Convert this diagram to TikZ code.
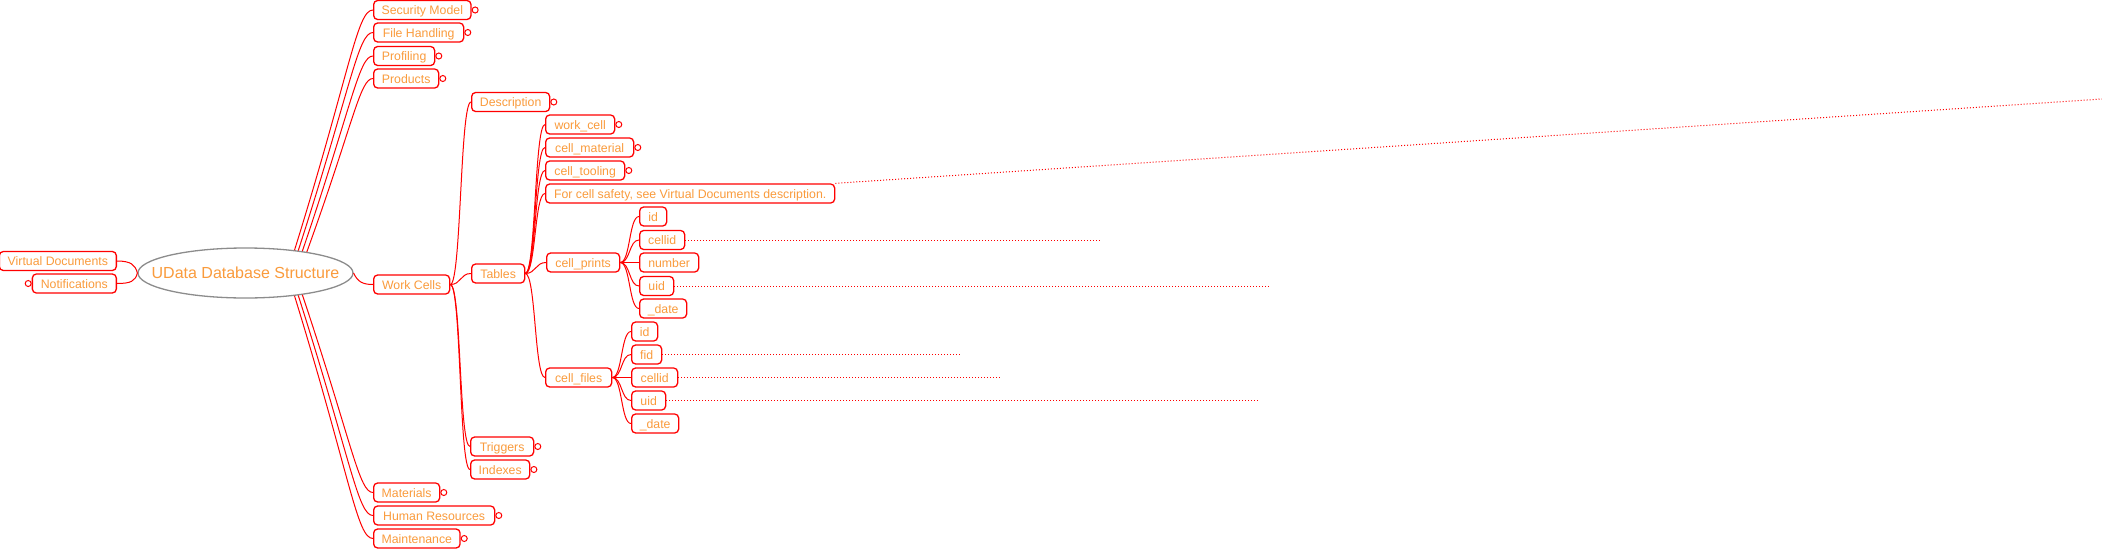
\documentclass[tikz,border=0pt]{standalone}
\usepackage{fontspec}
\setmainfont{Liberation Sans}
\usetikzlibrary{shapes.geometric}
\definecolor{mmred}{RGB}{255,0,0}
\definecolor{mmtext}{RGB}{250,155,60}
\definecolor{mmgray}{RGB}{140,140,140}
\tikzset{
  topic/.style={draw=mmred, line width=1.3pt, rounded corners=4pt, fill=white,
    text=mmtext, font=\fontsize{12.3}{14}\selectfont, inner xsep=8pt, inner ysep=0pt,
    minimum height=19pt, text height=10pt, text depth=0.6pt, anchor=west},
  fold/.style={circle, draw=mmred, fill=white, line width=1pt, inner sep=0pt, minimum size=6pt},
  link/.style={draw=mmred, line width=1pt},
  dotlink/.style={draw=mmred, line width=1pt, dash pattern=on 1pt off 2pt}
}
\begin{document}
\begin{tikzpicture}[x=1pt, y=-1pt]
\fill[white] (0,0) rectangle (2102,549);
\useasboundingbox (0,0) rectangle (2102,549);

% root
\node[ellipse, draw=mmgray, line width=1.3pt, fill=white, minimum width=215pt,
  minimum height=50pt, inner sep=0pt, text=mmtext, font=\fontsize{16}{18}\selectfont]
  (root) at (245.5,273) {\makebox[0pt]{\raisebox{-1.5pt}{UData Database Structure}}};

% left side
\node[topic, anchor=east, minimum width=117pt] (vd) at (117,261) {Virtual Documents};
\node[topic, anchor=east, minimum width=84pt] (notif) at (117,283.5) {Notifications};
\node[fold] (notiff) at ([xshift=-3.5pt]notif.west) {};

% root children
\node[topic, minimum width=95pt] (sm) at (373,10) {Security Model};
\node[topic, minimum width=90pt] (fh) at (373,32.5) {File Handling};
\node[topic, minimum width=61pt] (prof) at (373,56) {Profiling};
\node[topic, minimum width=65pt] (prod) at (373,78.5) {Products};
\node[topic, minimum width=76pt] (wc) at (373,284.5) {Work Cells};
\node[topic, minimum width=66pt] (mat) at (373,492.5) {Materials};
\node[topic, minimum width=121pt] (hr) at (373,515.5) {Human Resources};
\node[topic, minimum width=86pt] (maint) at (373,538.5) {Maintenance};

% work cells children
\node[topic, minimum width=78pt] (desc) at (471,102) {Description};
\node[topic, minimum width=53pt] (tables) at (471,273.5) {Tables};
\node[topic, minimum width=63pt] (trig) at (470,446.5) {Triggers};
\node[topic, minimum width=59pt] (idx) at (470,469.5) {Indexes};

% tables children
\node[topic, minimum width=69pt] (wcell) at (545,124.5) {work\_cell};
\node[topic, minimum width=88pt] (cmat) at (545,147.5) {cell\_material};
\node[topic, minimum width=79pt] (ctool) at (545,170.5) {cell\_tooling};
\node[topic, minimum width=289pt] (safety) at (545,193.5) {For cell safety, see Virtual Documents description.};
\node[topic, minimum width=73pt] (cprints) at (546,262.5) {cell\_prints};
\node[topic, minimum width=66pt] (cfiles) at (545,377.5) {cell\_files};

% cell_prints children
\node[topic, minimum width=27pt] (pid) at (639,216.5) {id};
\node[topic, minimum width=45pt] (pcellid) at (639,240) {cellid};
\node[topic, minimum width=59pt] (pnum) at (639,262.5) {number};
\node[topic, minimum width=34pt] (puid) at (639,286) {uid};
\node[topic, minimum width=47pt] (pdate) at (639,308.5) {\_date};

% cell_files children
\node[topic, minimum width=26pt] (fidn) at (631,331.5) {id};
\node[topic, minimum width=30pt] (ffid) at (631,354.5) {fid};
\node[topic, minimum width=46pt] (fcellid) at (631,377.5) {cellid};
\node[topic, minimum width=34pt] (fuid) at (631,400.5) {uid};
\node[topic, minimum width=47pt] (fdate) at (631,423.5) {\_date};

% fold markers
\foreach \n in {sm,fh,prof,prod,mat,hr,maint,desc,trig,idx,wcell,cmat,ctool}
  \node[fold] (\n f) at ([xshift=3.5pt]\n.east) {};

% connectors: left side
\draw[link] (vd.east) .. controls +(14,0) and +(-2,-8) .. (root.west);
\draw[link] (notif.east) .. controls +(14,0) and +(-2,8) .. (root.west);

% connectors: root to children
\draw[link] (root.25) .. controls +(56,-180) and +(-16,0) .. (sm.west);
\draw[link] (root.23) .. controls +(53,-164) and +(-15,0) .. (fh.west);
\draw[link] (root.21) .. controls +(50,-147) and +(-14,0) .. (prof.west);
\draw[link] (root.19) .. controls +(47,-130) and +(-13,0) .. (prod.west);
\draw[link] (root.east) .. controls +(4,9) and +(-10,0) .. (wc.west);
\draw[link] (root.-21) .. controls +(50,149) and +(-14,0) .. (mat.west);
\draw[link] (root.-23) .. controls +(53,166) and +(-15,0) .. (hr.west);
\draw[link] (root.-25) .. controls +(56,182) and +(-16,0) .. (maint.west);

% connectors: deeper levels
\foreach \c in {desc,tables,trig,idx}
  \draw[link] (wc.east) .. controls +(11,0) and +(-11,0) .. (\c.west);
\foreach \c in {wcell,cmat,ctool,safety,cprints,cfiles}
  \draw[link] (tables.east) .. controls +(10.5,0) and +(-10.5,0) .. (\c.west);
\foreach \c in {pid,pcellid,pnum,puid,pdate}
  \draw[link] (cprints.east) .. controls +(10,0) and +(-10,0) .. (\c.west);
\foreach \c in {fidn,ffid,fcellid,fuid,fdate}
  \draw[link] (cfiles.east) .. controls +(10,0) and +(-10,0) .. (\c.west);

% dotted links
\coordinate (e1) at (2102,99);
\coordinate (e2) at (1100,240);
\coordinate (e3) at (1271,286);
\coordinate (e4) at (960,354.5);
\coordinate (e5) at (1000,377.5);
\coordinate (e6) at (1260,400.5);
\draw[dotlink] (safety.north east) -- (e1);
\draw[dotlink] (pcellid.east) -- (e2);
\draw[dotlink] (puid.east) -- (e3);
\draw[dotlink] (ffid.east) -- (e4);
\draw[dotlink] (fcellid.east) -- (e5);
\draw[dotlink] (fuid.east) -- (e6);
\end{tikzpicture}
\end{document}
